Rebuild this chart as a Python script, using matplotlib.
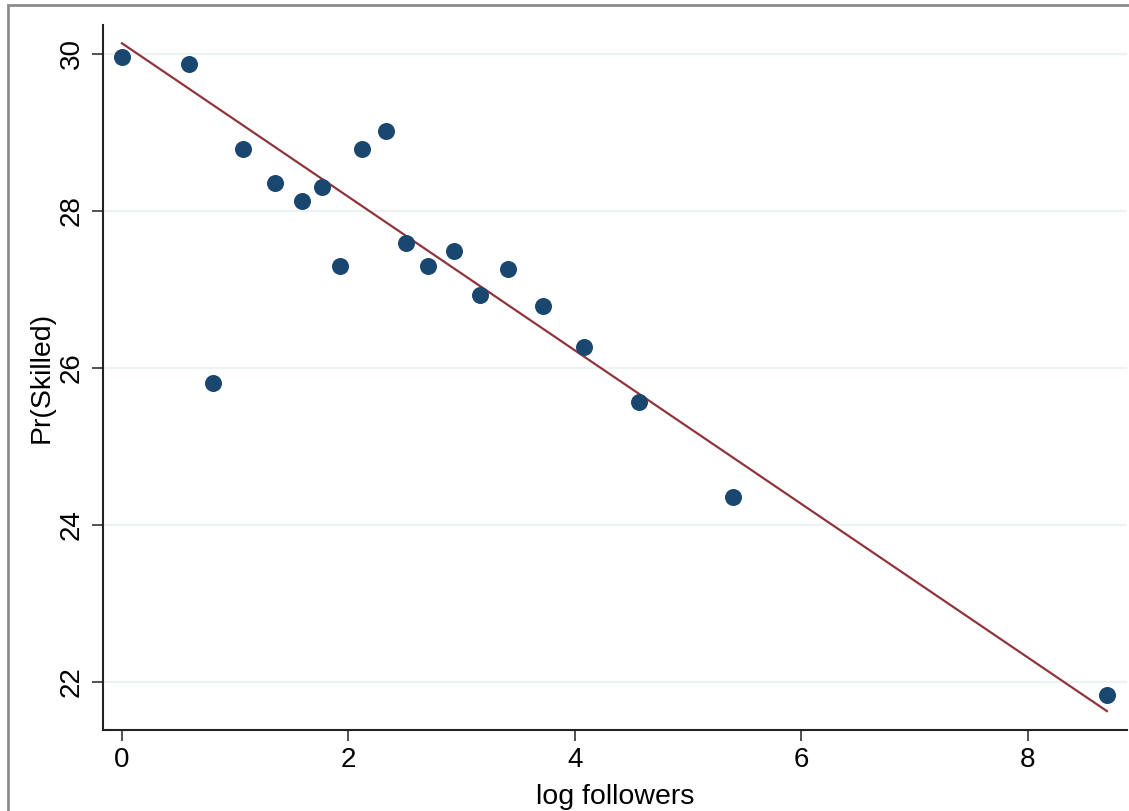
import matplotlib.pyplot as plt
from matplotlib.patches import Rectangle

plt.rcParams["font.family"] = ["Liberation Sans", "DejaVu Sans"]

# binned scatter values
log_followers = [0.00, 0.59, 0.80, 1.07, 1.35, 1.59, 1.77, 1.93, 2.12, 2.33,
                 2.51, 2.70, 2.93, 3.16, 3.41, 3.72, 4.08, 4.57, 5.40, 8.70]
pr_skilled = [29.95, 29.87, 25.80, 28.79, 28.35, 28.12, 28.30, 27.30, 28.79, 29.02,
              27.59, 27.30, 27.49, 26.93, 27.26, 26.79, 26.27, 25.56, 24.36, 21.83]

# linear fit endpoints
fit_x = [0.00, 8.70]
fit_y = [30.13, 21.63]

x_ticks = [0, 2, 4, 6, 8]
y_ticks = [22, 24, 26, 28, 30]

NAVY = "#1a476f"
MAROON = "#90353b"

fig = plt.figure(figsize=(11.29, 8.11), dpi=100)
ax = fig.add_axes([0.0912, 0.0999, 0.9068, 0.869])

ax.scatter(log_followers, pr_skilled, s=150, color=NAVY, zorder=3, linewidths=0)
ax.plot(fit_x, fit_y, color=MAROON, lw=1.6, zorder=2)

ax.set_xlim(-0.168, 8.875)
ax.set_ylim(21.39, 30.36)
ax.set_xticks(x_ticks)
ax.set_yticks(y_ticks)
ax.set_yticklabels([str(t) for t in y_ticks], rotation=90, va="center")
ax.tick_params(axis="both", labelsize=20, length=8, width=1.2, color="#333333")
ax.tick_params(axis="y", pad=5)
ax.tick_params(axis="x", pad=4)
ax.grid(axis="y", color="#eaf2f3", lw=1.5, zorder=0)
ax.set_axisbelow(True)

for side in ["top", "right"]:
    ax.spines[side].set_visible(False)
for side in ["left", "bottom"]:
    ax.spines[side].set_linewidth(1.5)
    ax.spines[side].set_color("#222222")

ax.set_xlabel("log followers", fontsize=20.5, labelpad=8)
ax.set_ylabel("Pr(Skilled)", fontsize=20.5, labelpad=3)

# outer frame like the exported Stata graph
fig.patches.append(Rectangle((8 / 1129, -0.1), 1.2, 1 - 5 / 811 + 0.1,
                             transform=fig.transFigure, fill=False,
                             edgecolor="#8c8c8c", lw=2))

fig.savefig("out.png", dpi=100)
